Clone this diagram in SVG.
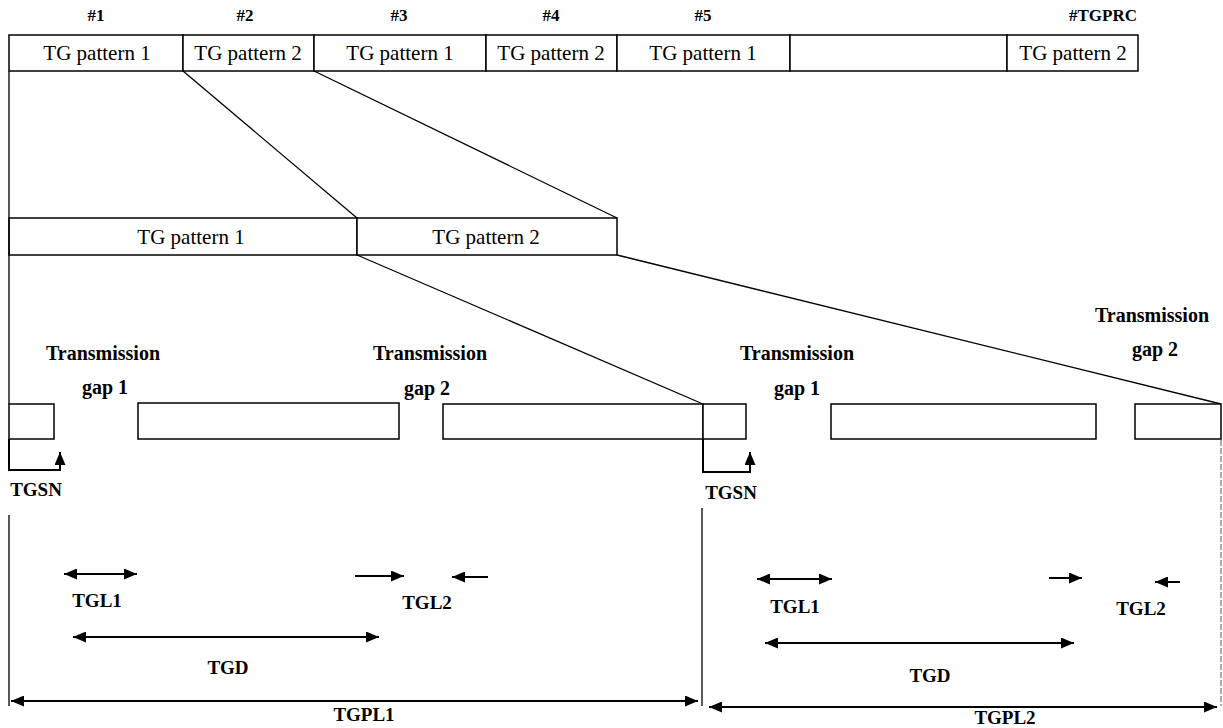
<svg xmlns="http://www.w3.org/2000/svg" width="1223" height="728" viewBox="0 0 1223 728">
<style>
text{font-family:"Liberation Serif","Times New Roman",serif;fill:#000;text-anchor:middle}
.t{font-size:21px}
.h{font-size:17px;font-weight:bold}
.b{font-size:20px;font-weight:bold}
.s{font-size:19px;font-weight:bold}
.box{fill:#fff;stroke:#000;stroke-width:1.5}
.ln{fill:none;stroke:#000;stroke-width:1.3}
.ar{fill:none;stroke:#000;stroke-width:2}
.faint{fill:none;stroke:#555;stroke-width:1;stroke-dasharray:6 2}
</style>
<defs>
<marker id="ah" viewBox="0 0 13 11" refX="13" refY="5.5" markerWidth="13" markerHeight="11" markerUnits="userSpaceOnUse" orient="auto-start-reverse">
<path d="M0,0 L13,5.5 L0,11 Z" fill="#000"/>
</marker>
</defs>
<g id="top-row">
<text class="h" x="96" y="21">#1</text>
<text class="h" x="245" y="21">#2</text>
<text class="h" x="399" y="21">#3</text>
<text class="h" x="551" y="21">#4</text>
<text class="h" x="703" y="21">#5</text>
<text class="h" x="1103" y="21">#TGPRC</text>
<rect class="box" x="9" y="35" width="174" height="36"/>
<rect class="box" x="183" y="35" width="131" height="36"/>
<rect class="box" x="314" y="35" width="172" height="36"/>
<rect class="box" x="486" y="35" width="131" height="36"/>
<rect class="box" x="617" y="35" width="173" height="36"/>
<rect class="box" x="790" y="35" width="217" height="36"/>
<rect class="box" x="1007" y="35" width="131" height="36"/>
<text class="t" x="97" y="60">TG pattern 1</text>
<text class="t" x="248" y="60">TG pattern 2</text>
<text class="t" x="400" y="60">TG pattern 1</text>
<text class="t" x="551" y="60">TG pattern 2</text>
<text class="t" x="703" y="60">TG pattern 1</text>
<text class="t" x="1073" y="60">TG pattern 2</text>
</g>
<g id="middle-row">
<rect class="box" x="9" y="218" width="348" height="37"/>
<rect class="box" x="357" y="218" width="260" height="37"/>
<text class="t" x="191" y="244">TG pattern 1</text>
<text class="t" x="486" y="244">TG pattern 2</text>
</g>
<g id="connectors">
<line class="ln" x1="9" y1="71" x2="9" y2="404"/>
<line class="ln" x1="183" y1="71" x2="357" y2="218"/>
<line class="ln" x1="314" y1="71" x2="617" y2="218"/>
<line class="ln" x1="357" y1="255" x2="703" y2="404"/>
<line class="ln" x1="617" y1="255" x2="1221" y2="404"/>
<line class="ln" x1="9" y1="515" x2="9" y2="706"/>
<line class="ln" x1="702" y1="508" x2="702" y2="706"/>
<line class="faint" x1="1221" y1="440" x2="1221" y2="706"/>
<path class="ar" d="M9,439 V470 H60 V452" marker-end="url(#ah)"/>
<path class="ar" d="M703,439 V472 H750 V452" marker-end="url(#ah)"/>
<line class="ar" x1="64" y1="574" x2="137" y2="574" marker-start="url(#ah)" marker-end="url(#ah)"/>
<line class="ar" x1="355" y1="576" x2="404" y2="576" marker-end="url(#ah)"/>
<line class="ar" x1="488" y1="577" x2="452" y2="577" marker-end="url(#ah)"/>
<line class="ar" x1="73" y1="637" x2="379" y2="637" marker-start="url(#ah)" marker-end="url(#ah)"/>
<line class="ar" x1="11" y1="701" x2="698" y2="701" marker-start="url(#ah)" marker-end="url(#ah)"/>
<line class="ar" x1="757" y1="579" x2="832" y2="579" marker-start="url(#ah)" marker-end="url(#ah)"/>
<line class="ar" x1="1049" y1="578" x2="1082" y2="578" marker-end="url(#ah)"/>
<line class="ar" x1="1180" y1="582" x2="1155" y2="582" marker-end="url(#ah)"/>
<line class="ar" x1="765" y1="643" x2="1074" y2="643" marker-start="url(#ah)" marker-end="url(#ah)"/>
<line class="ar" x1="709" y1="707" x2="1217" y2="707" marker-start="url(#ah)" marker-end="url(#ah)"/>
</g>
<g id="bottom-row">
<rect class="box" x="9" y="404" width="45" height="35"/>
<rect class="box" x="138" y="403" width="261" height="36"/>
<rect class="box" x="443" y="404" width="260" height="35"/>
<rect class="box" x="703" y="404" width="43" height="35"/>
<rect class="box" x="831" y="404" width="265" height="35"/>
<rect class="box" x="1135" y="404" width="86" height="35"/>
</g>
<g id="labels">
<text class="b" x="103" y="360">Transmission</text>
<text class="b" x="105" y="394">gap 1</text>
<text class="b" x="430" y="360">Transmission</text>
<text class="b" x="427" y="395">gap 2</text>
<text class="b" x="797" y="360">Transmission</text>
<text class="b" x="797" y="395">gap 1</text>
<text class="b" x="1152" y="322">Transmission</text>
<text class="b" x="1155" y="356">gap 2</text>
<text class="s" x="36" y="496">TGSN</text>
<text class="s" x="731" y="499">TGSN</text>
<text class="s" x="97" y="607">TGL1</text>
<text class="s" x="427" y="609">TGL2</text>
<text class="s" x="228" y="674">TGD</text>
<text class="s" x="364" y="721">TGPL1</text>
<text class="s" x="795" y="613">TGL1</text>
<text class="s" x="1141" y="615">TGL2</text>
<text class="s" x="930" y="682">TGD</text>
<text class="s" x="1005" y="724">TGPL2</text>
</g>
</svg>
